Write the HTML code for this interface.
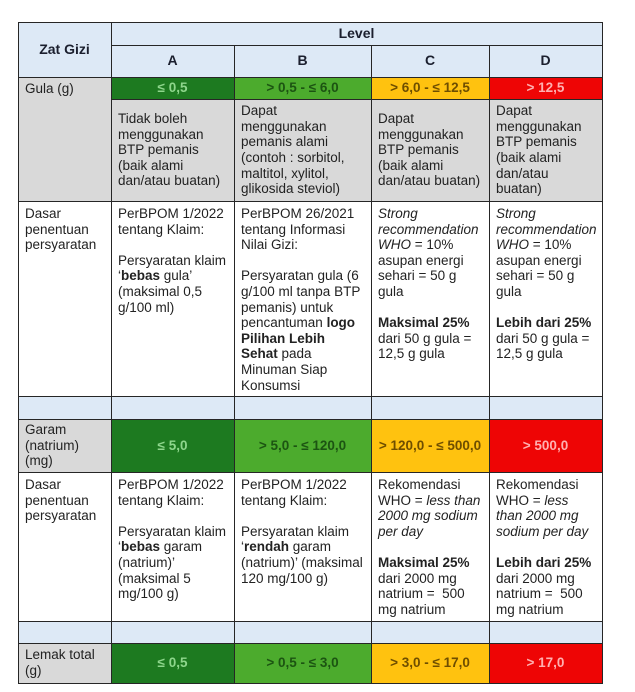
<!DOCTYPE html>
<html>
<head>
<meta charset="utf-8">
<style>
html,body{margin:0;padding:0;background:#fff;}
body{width:635px;height:692px;position:relative;overflow:hidden;}
.c{position:absolute;box-sizing:border-box;overflow:hidden;font:13.5px/15.6px "Liberation Sans",Arial,sans-serif;color:#222;white-space:nowrap;padding-left:7px;}
.mid{display:flex;align-items:center;}
.ctr{display:flex;align-items:center;justify-content:center;padding-left:0;}
.hb{background:#dde9f6;}
.gr{background:#d9d9d9;}
.wh{background:#fff;}
.h{font-weight:bold;color:#1b1f2e;font-size:14px;}
.band{font-weight:bold;font-size:13.5px;}
.dg{background:#1d7a20;color:#8ed68c;}
.lg{background:#4cab2d;color:#1c5412;}
.ye{background:#ffc20f;color:#6e4e00;}
.re{background:#ee0505;color:#ffb0b0;}
.lv{position:absolute;background:#262626;width:1.5px;}
.lh{position:absolute;background:#262626;height:1.5px;}
</style>
</head>
<body>

<!-- Header -->
<div class="c hb ctr h" style="left:18px;top:22px;width:93px;height:55px;">Zat Gizi</div>
<div class="c hb ctr h" style="left:111px;top:22px;width:491px;height:23px;">Level</div>
<div class="c hb ctr h" style="left:111px;top:45px;width:123px;height:32px;">A</div>
<div class="c hb ctr h" style="left:234px;top:45px;width:137px;height:32px;">B</div>
<div class="c hb ctr h" style="left:371px;top:45px;width:118px;height:32px;">C</div>
<div class="c hb ctr h" style="left:489px;top:45px;width:113px;height:32px;">D</div>

<!-- Gula -->
<div class="c gr" style="left:18px;top:77px;width:93px;height:124px;padding-top:4px;">Gula (g)</div>
<div class="c ctr band dg" style="left:111px;top:77px;width:123px;height:22px;">≤ 0,5</div>
<div class="c ctr band lg" style="left:234px;top:77px;width:137px;height:22px;">&gt; 0,5 - ≤ 6,0</div>
<div class="c ctr band ye" style="left:371px;top:77px;width:118px;height:22px;">&gt; 6,0 - ≤ 12,5</div>
<div class="c ctr band re" style="left:489px;top:77px;width:113px;height:22px;">&gt; 12,5</div>

<div class="c gr mid" style="left:111px;top:99px;width:123px;height:102px;"><div>Tidak boleh<br>menggunakan<br>BTP pemanis<br>(baik alami<br>dan/atau buatan)</div></div>
<div class="c gr mid" style="left:234px;top:99px;width:137px;height:102px;"><div>Dapat<br>menggunakan<br>pemanis alami<br>(contoh : sorbitol,<br>maltitol, xylitol,<br>glikosida steviol)</div></div>
<div class="c gr mid" style="left:371px;top:99px;width:118px;height:102px;"><div>Dapat<br>menggunakan<br>BTP pemanis<br>(baik alami<br>dan/atau buatan)</div></div>
<div class="c gr mid" style="left:489px;top:99px;width:113px;height:102px;"><div>Dapat<br>menggunakan<br>BTP pemanis<br>(baik alami<br>dan/atau<br>buatan)</div></div>

<!-- Dasar 1 -->
<div class="c wh" style="left:18px;top:201px;width:93px;height:195px;padding-top:5px;">Dasar<br>penentuan<br>persyaratan</div>
<div class="c wh" style="left:111px;top:201px;width:123px;height:195px;padding-top:5px;">PerBPOM 1/2022<br>tentang Klaim:<br>&nbsp;<br>Persyaratan klaim<br>‘<b>bebas</b> gula’<br>(maksimal 0,5<br>g/100 ml)</div>
<div class="c wh" style="left:234px;top:201px;width:137px;height:195px;padding-top:5px;">PerBPOM 26/2021<br>tentang Informasi<br>Nilai Gizi:<br>&nbsp;<br>Persyaratan gula (6<br>g/100 ml tanpa BTP<br>pemanis) untuk<br>pencantuman <b>logo</b><br><b>Pilihan Lebih</b><br><b>Sehat</b> pada<br>Minuman Siap<br>Konsumsi</div>
<div class="c wh" style="left:371px;top:201px;width:118px;height:195px;padding-top:5px;"><i>Strong</i><br><i>recommendation</i><br><i>WHO</i> = 10%<br>asupan energi<br>sehari = 50 g<br>gula<br>&nbsp;<br><b>Maksimal 25%</b><br>dari 50 g gula =<br>12,5 g gula</div>
<div class="c wh" style="left:489px;top:201px;width:113px;height:195px;padding-top:5px;"><i>Strong</i><br><i>recommendation</i><br><i>WHO</i> = 10%<br>asupan energi<br>sehari = 50 g<br>gula<br>&nbsp;<br><b>Lebih dari 25%</b><br>dari 50 g gula =<br>12,5 g gula</div>

<!-- Blue spacer -->
<div class="c hb" style="left:18px;top:396px;width:584px;height:23px;"></div>

<!-- Garam -->
<div class="c gr mid" style="left:18px;top:419px;width:93px;height:53px;"><div>Garam<br>(natrium)<br>(mg)</div></div>
<div class="c ctr band dg" style="left:111px;top:419px;width:123px;height:53px;">≤ 5,0</div>
<div class="c ctr band lg" style="left:234px;top:419px;width:137px;height:53px;">&gt; 5,0 - ≤ 120,0</div>
<div class="c ctr band ye" style="left:371px;top:419px;width:118px;height:53px;">&gt; 120,0 - ≤ 500,0</div>
<div class="c ctr band re" style="left:489px;top:419px;width:113px;height:53px;">&gt; 500,0</div>

<!-- Dasar 2 -->
<div class="c wh" style="left:18px;top:472px;width:93px;height:149px;padding-top:5px;">Dasar<br>penentuan<br>persyaratan</div>
<div class="c wh" style="left:111px;top:472px;width:123px;height:149px;padding-top:5px;">PerBPOM 1/2022<br>tentang Klaim:<br>&nbsp;<br>Persyaratan klaim<br>‘<b>bebas</b> garam<br>(natrium)’<br>(maksimal 5<br>mg/100 g)</div>
<div class="c wh" style="left:234px;top:472px;width:137px;height:149px;padding-top:5px;">PerBPOM 1/2022<br>tentang Klaim:<br>&nbsp;<br>Persyaratan klaim<br>‘<b>rendah</b> garam<br>(natrium)’ (maksimal<br>120 mg/100 g)</div>
<div class="c wh" style="left:371px;top:472px;width:118px;height:149px;padding-top:5px;">Rekomendasi<br>WHO = <i>less than</i><br><i>2000 mg sodium</i><br><i>per day</i><br>&nbsp;<br><b>Maksimal 25%</b><br>dari 2000 mg<br>natrium =&nbsp; 500<br>mg natrium</div>
<div class="c wh" style="left:489px;top:472px;width:113px;height:149px;padding-top:5px;">Rekomendasi<br>WHO = <i>less</i><br><i>than 2000 mg</i><br><i>sodium per day</i><br>&nbsp;<br><b>Lebih dari 25%</b><br>dari 2000 mg<br>natrium =&nbsp; 500<br>mg natrium</div>

<!-- Blue spacer -->
<div class="c hb" style="left:18px;top:621px;width:584px;height:22px;"></div>

<!-- Lemak -->
<div class="c gr mid" style="left:18px;top:643px;width:93px;height:40px;"><div>Lemak total<br>(g)</div></div>
<div class="c ctr band dg" style="left:111px;top:643px;width:123px;height:40px;">≤ 0,5</div>
<div class="c ctr band lg" style="left:234px;top:643px;width:137px;height:40px;">&gt; 0,5 - ≤ 3,0</div>
<div class="c ctr band ye" style="left:371px;top:643px;width:118px;height:40px;">&gt; 3,0 - ≤ 17,0</div>
<div class="c ctr band re" style="left:489px;top:643px;width:113px;height:40px;">&gt; 17,0</div>

<!-- Vertical lines -->
<div class="lv" style="left:17.5px;top:22px;height:662px;"></div>
<div class="lv" style="left:110.5px;top:22px;height:662px;"></div>
<div class="lv" style="left:233.5px;top:45px;height:639px;"></div>
<div class="lv" style="left:370.5px;top:45px;height:639px;"></div>
<div class="lv" style="left:488.5px;top:45px;height:639px;"></div>
<div class="lv" style="left:601.5px;top:22px;height:662px;"></div>

<!-- Horizontal lines -->
<div class="lh" style="left:17.5px;top:21.5px;width:585.5px;"></div>
<div class="lh" style="left:110.5px;top:44.5px;width:492.5px;"></div>
<div class="lh" style="left:17.5px;top:76.5px;width:585.5px;"></div>
<div class="lh" style="left:110.5px;top:98.5px;width:492.5px;"></div>
<div class="lh" style="left:17.5px;top:200.5px;width:585.5px;"></div>
<div class="lh" style="left:17.5px;top:395.5px;width:585.5px;"></div>
<div class="lh" style="left:17.5px;top:418.5px;width:585.5px;"></div>
<div class="lh" style="left:17.5px;top:471.5px;width:585.5px;"></div>
<div class="lh" style="left:17.5px;top:620.5px;width:585.5px;"></div>
<div class="lh" style="left:17.5px;top:642.5px;width:585.5px;"></div>
<div class="lh" style="left:17.5px;top:682.5px;width:585.5px;"></div>

</body>
</html>
